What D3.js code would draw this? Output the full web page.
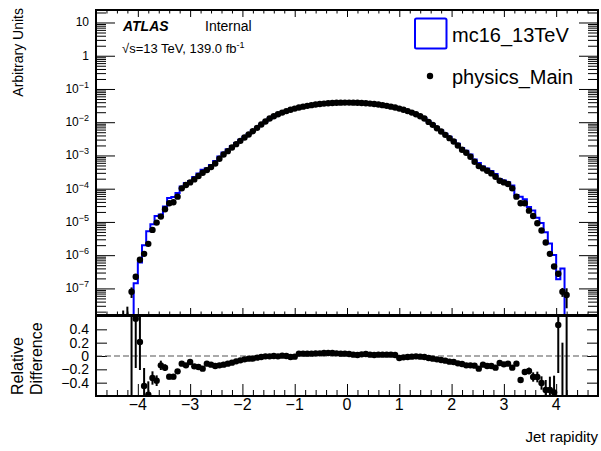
<!DOCTYPE html>
<html>
<head>
<meta charset="UTF-8">
<title>Jet rapidity</title>
<script src="https://cdn.jsdelivr.net/npm/d3@7"></script>
<style>
body { margin: 0; background: #fff; }
svg { font-family: "Liberation Sans", Arial, Helvetica, sans-serif; }
.tick line { stroke: #000; stroke-width: 1; }
</style>
</head>
<body>
<script>
// binning: 0.08 wide bins, first filled bin starts at -4.32
var binLow = -4.32, binWidth = 0.08;

// physics_Main, log10 of arbitrary units (null = empty)
var dataLog = [
  -7.92, -7.85, -7.10, -6.65, -6.14, -5.96, -5.66, -5.24, -5.02, -4.84,
  -4.62, -4.44, -4.41, -4.24, -3.99, -3.89, -3.81, -3.72, -3.62, -3.52,
  -3.44, -3.35, -3.24, -3.10, -2.97, -2.87, -2.76, -2.66, -2.56, -2.46,
  -2.37, -2.27, -2.17, -2.07, -1.98, -1.89, -1.82, -1.76, -1.71, -1.665,
  -1.625, -1.59, -1.558, -1.531, -1.507, -1.486, -1.468, -1.453, -1.44, -1.43,
  -1.422, -1.416, -1.412, -1.41, -1.41, -1.412, -1.416, -1.422, -1.43, -1.44,
  -1.453, -1.468, -1.486, -1.507, -1.531, -1.558, -1.59, -1.626, -1.666, -1.71,
  -1.76, -1.82, -1.89, -1.99, -2.08, -2.18, -2.28, -2.38, -2.48, -2.58,
  -2.70, -2.83, -2.92, -3.04, -3.19, -3.32, -3.39, -3.46, -3.54, -3.64,
  -3.76, -3.81, -3.86, -3.99, -4.24, -4.44, -4.44, -4.66, -4.82, -5.04,
  -5.26, -5.62, -5.96, -6.34, -6.56, -7.10, -7.20, null
];

// relative stat. error on data
var dataErr = [
  0.8, 1.0, 0.35, 0.2, 0.15, 0.12, 0.1, 0.08, 0.07, 0.06,
  0.05, 0.04, 0.04, 0.03, 0.03, 0.02, 0.02, 0.015, 0.015, 0.01,
  0.01, 0.01, 0.01, 0.01, 0.01, 0.01, 0.01, 0.01, 0.01, 0.01,
  0.005, 0.005, 0.005, 0.005, 0.005, 0.005, 0.005, 0.005, 0.005, 0.005,
  0.005, 0.005, 0.005, 0.005, 0.005, 0.005, 0.005, 0.005, 0.005, 0.005,
  0.005, 0.005, 0.005, 0.005, 0.005, 0.005, 0.005, 0.005, 0.005, 0.005,
  0.005, 0.005, 0.005, 0.005, 0.005, 0.005, 0.005, 0.005, 0.005, 0.005,
  0.005, 0.005, 0.005, 0.005, 0.005, 0.005, 0.005, 0.005, 0.005, 0.005,
  0.01, 0.01, 0.01, 0.01, 0.01, 0.01, 0.01, 0.01, 0.01, 0.01,
  0.015, 0.015, 0.02, 0.02, 0.03, 0.04, 0.04, 0.05, 0.06, 0.07,
  0.08, 0.1, 0.12, 0.15, 0.2, 0.3, 0.6, 0
];

// mc16_13TeV, log10 of arbitrary units (null = empty)
var mcLog = [
  null, null, null, -6.843, -6.223, -5.700, -5.283, -5.066, -4.819, -4.775,
  -4.537, -4.279, -4.249, -4.127, -3.937, -3.825, -3.769, -3.647, -3.542, -3.429,
  -3.387, -3.290, -3.169, -3.035, -2.910, -2.817, -2.714, -2.624, -2.531, -2.438,
  -2.352, -2.252, -2.159, -2.063, -1.978, -1.888, -1.820, -1.758, -1.712, -1.665,
  -1.618, -1.586, -1.573, -1.546, -1.522, -1.501, -1.485, -1.470, -1.459, -1.449,
  -1.441, -1.433, -1.427, -1.425, -1.423, -1.421, -1.423, -1.433, -1.443, -1.449,
  -1.460, -1.477, -1.495, -1.516, -1.540, -1.565, -1.577, -1.617, -1.659, -1.706,
  -1.758, -1.816, -1.883, -1.977, -2.062, -2.158, -2.253, -2.349, -2.441, -2.539,
  -2.649, -2.775, -2.855, -2.975, -3.122, -3.229, -3.330, -3.389, -3.469, -3.557,
  -3.712, -3.752, -3.807, -3.907, -4.187, -4.246, -4.321, -4.549, -4.656, -4.876,
  -5.035, -5.310, -5.650, -5.998, -6.726, -6.401, null, null
];

// relative difference (data - mc) / mc and its error
var ratio = [
  null, null, 2.0, 0.56, 0.21, -0.45, -0.58, -0.33, -0.37, -0.14,
  -0.175, -0.31, -0.31, -0.23, -0.115, -0.14, -0.09, -0.155, -0.165, -0.19,
  -0.115, -0.13, -0.15, -0.14, -0.13, -0.115, -0.10, -0.08, -0.065, -0.05,
  -0.04, -0.04, -0.025, -0.015, -0.005, -0.005, 0.0, -0.005, 0.005, 0.0,
  -0.015, -0.01, 0.035, 0.035, 0.035, 0.035, 0.04, 0.04, 0.045, 0.045,
  0.045, 0.04, 0.035, 0.035, 0.03, 0.02, 0.015, 0.025, 0.03, 0.02,
  0.015, 0.02, 0.02, 0.02, 0.02, 0.015, -0.03, -0.02, -0.015, -0.01,
  -0.005, -0.01, -0.015, -0.03, -0.04, -0.05, -0.06, -0.07, -0.085, -0.09,
  -0.11, -0.12, -0.14, -0.14, -0.145, -0.19, -0.13, -0.15, -0.15, -0.175,
  -0.105, -0.125, -0.115, -0.175, -0.115, -0.36, -0.24, -0.225, -0.315, -0.315,
  -0.405, -0.51, -0.51, -0.545, 0.465, -0.8, 2.0, null
];
var ratioErr = [
  0, 0, 3, 0.74, 0.42, 0.27, 0.2, 0.1, 0.08, 0.07,
  0.05, 0.04, 0.04, 0.03, 0.03, 0.02, 0.02, 0.015, 0.015, 0.01,
  0.01, 0.01, 0.01, 0.01, 0.01, 0.01, 0.01, 0.01, 0.01, 0.01,
  0.005, 0.005, 0.005, 0.005, 0.005, 0.005, 0.005, 0.005, 0.005, 0.005,
  0.005, 0.005, 0.005, 0.005, 0.005, 0.005, 0.005, 0.005, 0.005, 0.005,
  0.005, 0.005, 0.005, 0.005, 0.005, 0.005, 0.005, 0.005, 0.005, 0.005,
  0.005, 0.005, 0.005, 0.005, 0.005, 0.005, 0.005, 0.005, 0.005, 0.005,
  0.005, 0.005, 0.005, 0.005, 0.005, 0.005, 0.005, 0.005, 0.005, 0.005,
  0.01, 0.01, 0.01, 0.01, 0.01, 0.01, 0.01, 0.01, 0.01, 0.01,
  0.015, 0.015, 0.02, 0.02, 0.03, 0.04, 0.04, 0.05, 0.07, 0.08,
  0.1, 0.15, 0.2, 0.25, 0.72, 1.0, 4.0, 0
];

var xTicks = [-4, -3, -2, -1, 0, 1, 2, 3, 4];
var ratioTicks = [-0.4, -0.2, 0, 0.2, 0.4];
var decades = [-7, -6, -5, -4, -3, -2, -1, 0, 1];

var width = 601, height = 451;
var left = 96, right = 598;
var top1 = 10, bot1 = 315, top2 = 316, bot2 = 396;

var x = d3.scaleLinear().domain([-4.8, 4.8]).range([left, right]);
var yUp = d3.scaleLog().domain([Math.pow(10, -7.8), Math.pow(10, 1.376)]).range([bot1, top1]);
var yLo = d3.scaleLinear().domain([-0.6, 0.6]).range([bot2, top2]);

var svg = d3.select("body").append("svg")
    .attr("width", width)
    .attr("height", height);

var defs = svg.append("defs");
defs.append("clipPath").attr("id", "clipUp").append("rect")
    .attr("x", left).attr("y", top1).attr("width", right - left).attr("height", bot1 - top1);
defs.append("clipPath").attr("id", "clipLo").append("rect")
    .attr("x", left).attr("y", top2).attr("width", right - left).attr("height", bot2 - top2);

var bins = dataLog.map(function(d, i) {
  var lo = binLow + i * binWidth;
  return {
    lo: lo, hi: lo + binWidth, c: lo + binWidth / 2,
    data: d === null ? null : Math.pow(10, d),
    dErr: dataErr[i],
    mc: mcLog[i] === null ? null : Math.pow(10, mcLog[i]),
    r: ratio[i], rErr: ratioErr[i]
  };
});

// minor ticks
var xMinor = d3.range(-48, 49, 2).map(function(v) { return v / 10; })
    .filter(function(v) { return xTicks.indexOf(v) < 0; });
var yMinor = [];
decades.concat([-8]).forEach(function(p) {
  for (var m = 2; m <= 9; m++) {
    var v = m * Math.pow(10, p);
    if (v > yUp.domain()[0] && v < yUp.domain()[1]) yMinor.push(v);
  }
});
var yMajor = decades.map(function(p) { return Math.pow(10, p); });

function ticks(axis, values, size) {
  return function(g) {
    g.call(axis.tickValues(values).tickSize(size).tickFormat(""));
    g.select(".domain").remove();
  };
}

// ---------- upper pad ----------
var up = svg.append("g");

up.append("g").attr("transform", "translate(0," + bot1 + ")").call(ticks(d3.axisBottom(x), xTicks, -7));
up.append("g").attr("transform", "translate(0," + bot1 + ")").call(ticks(d3.axisBottom(x), xMinor, -3.5));
up.append("g").attr("transform", "translate(0," + top1 + ")").call(ticks(d3.axisTop(x), xTicks, -7));
up.append("g").attr("transform", "translate(0," + top1 + ")").call(ticks(d3.axisTop(x), xMinor, -3.5));
up.append("g").attr("transform", "translate(" + left + ",0)").call(ticks(d3.axisLeft(yUp), yMajor, -19));
up.append("g").attr("transform", "translate(" + left + ",0)").call(ticks(d3.axisLeft(yUp), yMinor, -10));
up.append("g").attr("transform", "translate(" + right + ",0)").call(ticks(d3.axisRight(yUp), yMajor, -19));
up.append("g").attr("transform", "translate(" + right + ",0)").call(ticks(d3.axisRight(yUp), yMinor, -10));

// y labels
decades.forEach(function(p) {
  var t = up.append("text")
      .attr("x", 89)
      .attr("y", yUp(Math.pow(10, p)) + 4)
      .attr("text-anchor", "end")
      .attr("font-size", 12);
  if (p === 1) t.text("10");
  else if (p === 0) t.text("1");
  else {
    t.append("tspan").text("10");
    t.append("tspan").attr("dy", -5).attr("font-size", 9).text("\u2212" + (-p));
  }
});

var plotUp = up.append("g").attr("clip-path", "url(#clipUp)");

// MC step histogram
var stepPts = [];
var below = bot1 + 5;
stepPts.push([x(-4.8), below]);
bins.forEach(function(b) {
  var yy = b.mc === null ? below : yUp(b.mc);
  stepPts.push([x(b.lo), yy]);
  stepPts.push([x(b.hi), yy]);
});
stepPts.push([x(4.8), below]);
plotUp.append("path")
    .attr("d", d3.line()(stepPts))
    .attr("fill", "none")
    .attr("stroke", "#0000ff")
    .attr("stroke-width", 2);

// data
var dataBins = bins.filter(function(b) { return b.data !== null; });
plotUp.selectAll(".err").data(dataBins).enter().append("line")
    .attr("x1", function(b) { return x(b.c); })
    .attr("x2", function(b) { return x(b.c); })
    .attr("y1", function(b) { return b.dErr >= 1 ? below : yUp(b.data * (1 - b.dErr)); })
    .attr("y2", function(b) { return yUp(b.data * (1 + b.dErr)); })
    .attr("stroke", "#000")
    .attr("stroke-width", 2);
plotUp.selectAll(".pt").data(dataBins).enter().append("circle")
    .attr("cx", function(b) { return x(b.c); })
    .attr("cy", function(b) { return yUp(b.data); })
    .attr("r", 3.2)
    .attr("fill", "#000");

up.append("rect")
    .attr("x", left).attr("y", top1).attr("width", right - left).attr("height", bot1 - top1)
    .attr("fill", "none").attr("stroke", "#000").attr("stroke-width", 2);

// ATLAS label
up.append("text").attr("x", 123).attr("y", 31).attr("font-size", 14)
    .attr("font-weight", "bold").attr("font-style", "italic").text("ATLAS");
up.append("text").attr("x", 205).attr("y", 31).attr("font-size", 14).text("Internal");
var lumi = up.append("text").attr("x", 122).attr("y", 53).attr("font-size", 13);
lumi.append("tspan").text("\u221As=13 TeV, 139.0 fb");
lumi.append("tspan").attr("dy", -5).attr("font-size", 9).text("-1");

// legend
up.append("rect").attr("x", 415).attr("y", 18.5).attr("width", 31.5).attr("height", 30)
    .attr("rx", 1.5)
    .attr("fill", "none").attr("stroke", "#0000ff").attr("stroke-width", 2);
up.append("text").attr("x", 452).attr("y", 42).attr("font-size", 20).text("mc16_13TeV");
up.append("circle").attr("cx", 430).attr("cy", 76).attr("r", 3.2).attr("fill", "#000");
up.append("text").attr("x", 452).attr("y", 84).attr("font-size", 20).text("physics_Main");

svg.append("text")
    .attr("transform", "translate(23,8) rotate(-90)")
    .attr("text-anchor", "end")
    .attr("font-size", 14)
    .text("Arbitrary Units");

// ---------- lower pad ----------
var lo = svg.append("g");

lo.append("g").attr("transform", "translate(0," + bot2 + ")").call(ticks(d3.axisBottom(x), xTicks, -12));
lo.append("g").attr("transform", "translate(0," + bot2 + ")").call(ticks(d3.axisBottom(x), xMinor, -6));
lo.append("g").attr("transform", "translate(" + left + ",0)").call(ticks(d3.axisLeft(yLo), ratioTicks, -11));
lo.append("g").attr("transform", "translate(" + right + ",0)").call(ticks(d3.axisRight(yLo), ratioTicks, -11));

xTicks.forEach(function(v) {
  lo.append("text").attr("x", x(v)).attr("y", 410)
      .attr("text-anchor", "middle").attr("font-size", 16)
      .text(v < 0 ? "\u2212" + (-v) : String(v));
});
ratioTicks.forEach(function(v) {
  lo.append("text").attr("x", 89).attr("y", yLo(v) + 5)
      .attr("text-anchor", "end").attr("font-size", 14)
      .text(v === 0 ? "0" : (v < 0 ? "\u2212" : "") + Math.abs(v).toFixed(1));
});

lo.append("line")
    .attr("x1", left).attr("x2", right).attr("y1", yLo(0)).attr("y2", yLo(0))
    .attr("stroke", "#555").attr("stroke-width", 1.2).attr("stroke-dasharray", "6,3");

var plotLo = lo.append("g").attr("clip-path", "url(#clipLo)");
var ratioBins = bins.filter(function(b) { return b.r !== null; });
plotLo.selectAll(".rerr").data(ratioBins).enter().append("line")
    .attr("x1", function(b) { return x(b.c); })
    .attr("x2", function(b) { return x(b.c); })
    .attr("y1", function(b) { return yLo(b.r - b.rErr); })
    .attr("y2", function(b) { return yLo(b.r + b.rErr); })
    .attr("stroke", "#000")
    .attr("stroke-width", 2);
plotLo.selectAll(".rpt").data(ratioBins).enter().append("circle")
    .attr("cx", function(b) { return x(b.c); })
    .attr("cy", function(b) { return yLo(b.r); })
    .attr("r", 3.2)
    .attr("fill", "#000");

lo.append("rect")
    .attr("x", left).attr("y", top2).attr("width", right - left).attr("height", bot2 - top2)
    .attr("fill", "none").attr("stroke", "#000").attr("stroke-width", 2);

svg.append("text")
    .attr("transform", "translate(23,395) rotate(-90)")
    .attr("font-size", 16).text("Relative");
svg.append("text")
    .attr("transform", "translate(42,395) rotate(-90)")
    .attr("font-size", 16).text("Difference");

svg.append("text")
    .attr("x", 598).attr("y", 442)
    .attr("text-anchor", "end").attr("font-size", 15)
    .text("Jet rapidity");
</script>
</body>
</html>
